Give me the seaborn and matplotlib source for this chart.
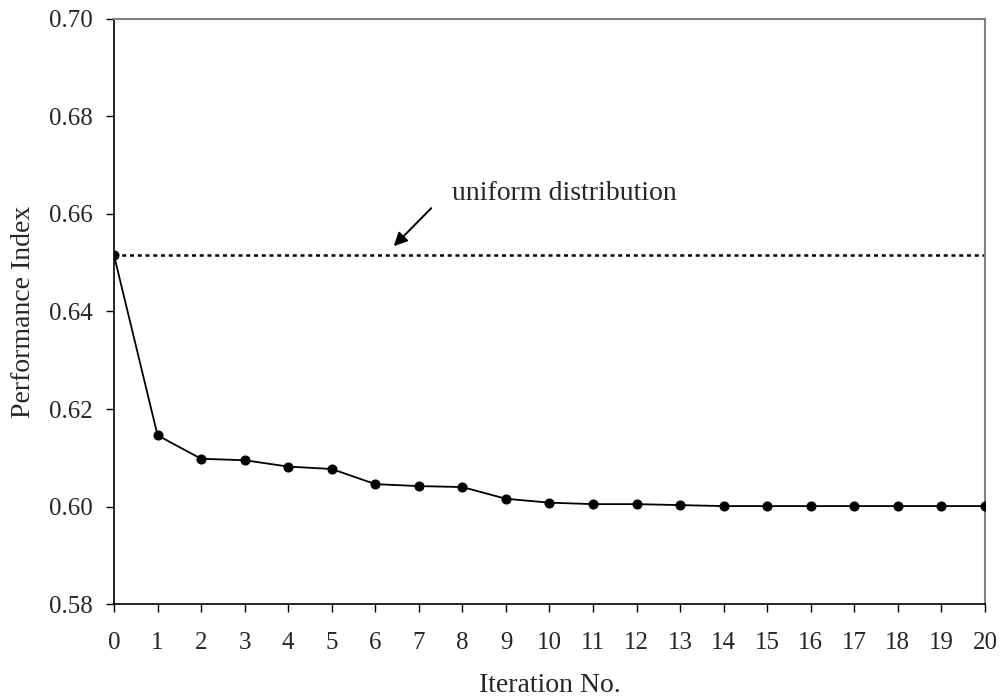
import matplotlib
matplotlib.use("Agg")
import matplotlib.pyplot as plt
import seaborn as sns
import pandas as pd

iterations = list(range(0, 21))
performance = [0.6515, 0.6146, 0.6098, 0.6095, 0.6082, 0.6077, 0.6046, 0.6042,
               0.6040, 0.6016, 0.6008, 0.6005, 0.6005, 0.6003, 0.6001, 0.6001,
               0.6001, 0.6001, 0.6001, 0.6001, 0.6001]
uniform_value = 0.6515
y_ticks = [0.58, 0.60, 0.62, 0.64, 0.66, 0.68, 0.70]

sns.set_theme(style="white")
plt.rcParams['font.family'] = ['Liberation Serif', 'DejaVu Serif']

df = pd.DataFrame({"Iteration": iterations, "Performance": performance})

fig = plt.figure(figsize=(10.03, 7.0), dpi=100)
ax = fig.add_axes([0.1137, 0.137, 0.8683, 0.836])

ax.axhline(uniform_value, color="black", lw=1.8, linestyle=(0, (1.6, 1.5)), zorder=1)
sns.lineplot(data=df, x="Iteration", y="Performance", ax=ax, color="black",
             lw=1.3, marker="o", markersize=6.5, markeredgecolor="black",
             markerfacecolor="black", zorder=3)

ax.set_xlim(0, 20)
ax.set_ylim(0.58, 0.70)
ax.set_xticks(iterations)
ax.set_xticklabels([str(i) for i in iterations])
ax.set_yticks(y_ticks)
ax.set_yticklabels([f"{v:.2f}" for v in y_ticks])
ax.tick_params(axis="both", which="major", direction="out", length=6, width=1,
               color="black", labelsize=18, left=True, bottom=True)
ax.tick_params(axis="y", pad=9)
ax.tick_params(axis="x", pad=14)

for side in ["left", "bottom"]:
    ax.spines[side].set_color("black")
    ax.spines[side].set_linewidth(1.2)
for side in ["top", "right"]:
    ax.spines[side].set_color("#808080")
    ax.spines[side].set_linewidth(1.5)

ax.set_xlabel("Iteration No.", fontsize=20, labelpad=14)
ax.set_ylabel("Performance Index", fontsize=20, labelpad=10)

ax.annotate("", xy=(6.38, 0.653), xytext=(7.33, 0.6616),
            arrowprops=dict(arrowstyle="-|>", color="black", lw=1.4,
                            mutation_scale=20))
ax.text(7.75, 0.6641, "uniform distribution", fontsize=20, va="center", ha="left")

fig.savefig("out.png", dpi=100)
